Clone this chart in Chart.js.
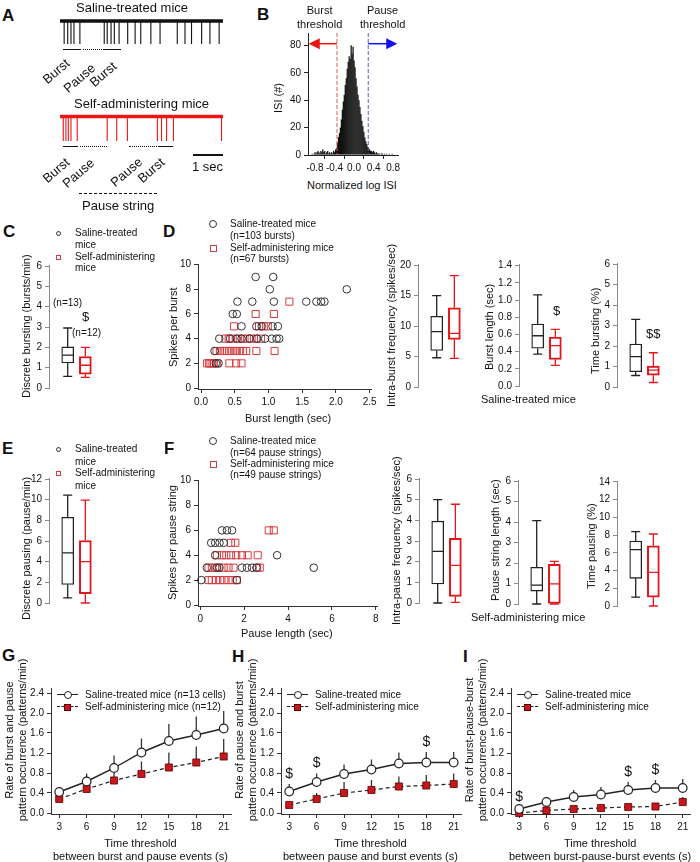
<!DOCTYPE html>
<html>
<head>
<meta charset="utf-8">
<script src="https://cdn.jsdelivr.net/npm/chart.js@4.4.1/dist/chart.umd.min.js"></script>
<style>
html, body { margin: 0; padding: 0; background: #fff; }
#fig { position: relative; width: 700px; height: 862px; overflow: hidden; font-family: "Liberation Sans", Arial, sans-serif; color: #111; }
#fig canvas { position: absolute; }
.t { position: absolute; white-space: nowrap; line-height: 1; }
</style>
</head>
<body>
<div id="fig"></div>
<script>
// ---------- data ----------
// A: spike times (sec) of the two example traces
const traceLen = 5.49;
const salSpikes = [0.14, 0.26, 0.37, 0.47, 0.67, 1.49, 1.59, 1.72, 1.83, 1.99, 2.28, 2.53, 2.72, 3.06, 3.37, 3.95, 4.21, 4.43, 4.77, 5.05, 5.36];
const selfSpikes = [0.11, 0.20, 0.28, 0.37, 0.58, 1.59, 1.91, 2.27, 3.28, 3.42, 3.59, 3.82, 5.44];

// B: ISI histogram
const isiBins = [-0.88, -0.86, -0.84, -0.82, -0.80, -0.78, -0.76, -0.74, -0.72, -0.70,
  -0.68, -0.66, -0.64, -0.62, -0.60, -0.58, -0.56, -0.54, -0.52, -0.50,
  -0.48, -0.46, -0.44, -0.42, -0.40, -0.38, -0.36, -0.34, -0.32, -0.30,
  -0.28, -0.26, -0.24, -0.22, -0.20, -0.18, -0.16, -0.14, -0.12, -0.10,
  -0.08, -0.06, -0.04, -0.02, 0.00, 0.02, 0.04, 0.06, 0.08, 0.10,
  0.12, 0.14, 0.16, 0.18, 0.20, 0.22, 0.24, 0.26, 0.28, 0.30,
  0.32, 0.34, 0.36, 0.38, 0.40, 0.42, 0.44, 0.46, 0.48, 0.50,
  0.52, 0.54, 0.56, 0.58, 0.60, 0.62, 0.64, 0.66, 0.68, 0.70,
  0.72, 0.74, 0.76, 0.78, 0.80, 0.82, 0.84, 0.86, 0.88];
const isiCounts = [0, 1, 0, 1, 2, 1, 2, 3, 2, 1,
  3, 2, 4, 2, 3, 1, 2, 3, 1, 2,
  1, 2, 1, 3, 2, 4, 5, 9, 13, 16,
  20, 26, 33, 39, 44, 51, 56, 63, 68, 72,
  70, 80, 74, 79, 69, 64, 56, 50, 44, 40,
  35, 30, 25, 21, 17, 13, 10, 8, 6, 5,
  4, 3, 3, 2, 3, 2, 1, 2, 1, 1,
  1, 0, 1, 1, 0, 1, 0, 1, 0, 0,
  1, 0, 0, 1, 0, 0, 0, 0, 0];
const burstThr = -0.35;
const pauseThr = 0.29;
const bXTicks = [-0.8, -0.4, 0, 0.4, 0.8];
const bYTicks = [0, 20, 40, 60, 80];

// box plots: [saline, self-administering]
const boxPos = [1, 2];
const cLo = [0.57, 0.52], cQ1 = [1.23, 0.68], cMed = [1.62, 1.12], cQ3 = [2.02, 1.55], cHi = [2.95, 2.0];
const d1Lo = [4.8, 4.7], d1Q1 = [6.0, 7.8], d1Med = [9.1, 8.8], d1Q3 = [11.6, 13.0], d1Hi = [15.0, 18.3];
const d2Lo = [0.37, 0.24], d2Q1 = [0.44, 0.31], d2Med = [0.585, 0.47], d2Q3 = [0.72, 0.57], d2Hi = [1.06, 0.66];
const d3Lo = [0.56, 0.22], d3Q1 = [0.75, 0.58], d3Med = [1.48, 0.82], d3Q3 = [2.1, 1.02], d3Hi = [3.3, 1.67];
const eLo = [0.5, 0], eQ1 = [1.8, 0.9], eMed = [4.85, 4.0], eQ3 = [8.3, 6.05], eHi = [10.45, 9.95];
const f1Lo = [0, 0.03], f1Q1 = [0.92, 0.32], f1Med = [2.5, 1.82], f1Q3 = [3.96, 3.13], f1Hi = [5.0, 4.78];
const f2Lo = [0, 0], f2Q1 = [0.63, 0], f2Med = [0.92, 0.98], f2Q3 = [1.79, 1.93], f2Hi = [4.07, 2.08];
const f3Lo = [1.0, 0], f3Q1 = [3.12, 1.0], f3Med = [6.35, 3.8], f3Q3 = [7.33, 6.8], f3Hi = [8.38, 8.12];
const cTicks = [0, 1, 2, 3, 4, 5, 6];
const d1Ticks = [0, 5, 10, 15, 20];
const d2Ticks = [0, 0.2, 0.4, 0.6, 0.8, 1.0, 1.2, 1.4];
const d3Ticks = [0, 1, 2, 3, 4, 5, 6];
const eTicks = [0, 2, 4, 6, 8, 10, 12];
const f1Ticks = [0, 1, 2, 3, 4, 5, 6];
const f2Ticks = [0, 1, 2, 3, 4, 5, 6];
const f3Ticks = [0, 2, 4, 6, 8, 10, 12, 14];

// D scatter: burst length (sec) vs spikes per burst
const dSalLen = [0.81, 1.07, 1.02, 2.16, 0.54, 0.76, 1.08, 1.56, 1.71, 1.78, 1.83, 0.47, 0.53,
  0.60, 0.82, 0.90, 1.06, 1.14, 0.27, 0.43, 0.53, 0.60, 0.72, 0.83, 0.95, 1.05, 1.12, 1.16, 0.20, 0.22, 0.26];
const dSalSpk = [9, 9, 8, 8, 7, 7, 7, 7, 7, 7, 7, 6, 6,
  5, 5, 5, 5, 5, 4, 4, 4, 4, 4, 4, 4, 4, 4, 4, 3, 2, 2];
const dSelfLen = [1.31, 0.81, 1.08, 0.49, 0.86, 0.93, 0.99,
  0.36, 0.41, 0.47, 0.55, 0.62, 0.68, 0.75, 0.82, 0.89,
  0.23, 0.28, 0.31, 0.35, 0.38, 0.42, 0.45, 0.50, 0.53, 0.58, 0.62, 0.67, 0.82, 1.09,
  0.09, 0.12, 0.14, 0.17, 0.19, 0.24, 0.42, 0.52, 0.60];
const dSelfSpk = [7, 6, 6, 5, 5, 5, 5,
  4, 4, 4, 4, 4, 4, 4, 4, 4,
  3, 3, 3, 3, 3, 3, 3, 3, 3, 3, 3, 3, 3, 3,
  2, 2, 2, 2, 2, 2, 2, 2, 2];
const dXTicks = [0, 0.5, 1.0, 1.5, 2.0, 2.5];
const dYTicks = [0, 2, 4, 6, 8, 10];

// F scatter: pause length (sec) vs spikes per pause string
const fSalLen = [0.99, 1.22, 1.45, 0.50, 0.68, 0.88, 1.07, 0.68, 3.50,
  0.30, 0.76, 0.88, 1.90, 2.13, 2.36, 2.56, 5.17, 0.05, 1.67];
const fSalSpk = [6, 6, 6, 5, 5, 5, 5, 4, 4,
  3, 3, 3, 3, 3, 3, 3, 3, 2, 2];
const fSelfLen = [3.12, 3.35, 1.40, 1.60, 0.76, 0.99, 1.19, 1.40, 1.64, 1.90, 2.16, 2.62,
  0.38, 0.53, 0.68, 0.84, 1.07, 1.29, 1.52, 2.59, 2.71,
  0.38, 0.53, 0.72, 0.91, 1.10, 1.29, 1.48, 1.67];
const fSelfSpk = [6, 6, 5, 5, 4, 4, 4, 4, 4, 4, 4, 4,
  3, 3, 3, 3, 3, 3, 3, 3, 3,
  2, 2, 2, 2, 2, 2, 2, 2];
const fXTicks = [0, 2, 4, 6, 8];
const fYTicks = [0, 2, 4, 6, 8, 10];

// G-I: pattern rates vs time threshold
const thresholds = [3, 6, 9, 12, 15, 18, 21];
const gSal = [0.42, 0.63, 0.90, 1.21, 1.44, 1.56, 1.69];
const gSalErr = [0.09, 0.16, 0.25, 0.28, 0.34, 0.37, 0.35];
const gSelf = [0.28, 0.48, 0.65, 0.78, 0.91, 1.01, 1.13];
const gSelfErr = [0.05, 0.12, 0.15, 0.25, 0.30, 0.32, 0.35];
const hSal = [0.43, 0.62, 0.78, 0.87, 0.99, 1.01, 1.01];
const hSalErr = [0.15, 0.17, 0.19, 0.20, 0.22, 0.21, 0.21];
const hSelf = [0.16, 0.28, 0.40, 0.46, 0.53, 0.55, 0.58];
const hSelfErr = [0.04, 0.12, 0.22, 0.20, 0.20, 0.21, 0.21];
const iSal = [0.08, 0.22, 0.32, 0.37, 0.46, 0.50, 0.50];
const iSalErr = [0.04, 0.10, 0.14, 0.15, 0.16, 0.16, 0.18];
const iSelf = [0.0, 0.05, 0.08, 0.10, 0.12, 0.13, 0.22];
const iSelfErr = [0.0, 0.02, 0.03, 0.04, 0.04, 0.05, 0.10];
const hSig = [0, 1, 5];
const iSig = [0, 4, 5];
const rateTicks = [0, 0.4, 0.8, 1.2, 1.6, 2.0, 2.4];

// ---------- helpers ----------
const BLK = '#222';
const RED = '#e4161c';
const SQ = '#d63a3f';
const fig = document.getElementById('fig');
const P = 14;
const f0 = v => String(v);
const f1 = v => v.toFixed(1);

Chart.defaults.font.family = '"Liberation Sans", Arial, sans-serif';
Chart.defaults.font.size = 10;
Chart.defaults.color = '#111';

// canvas placed so that the chart area lands on l,t,r,b of the page
function mount(l, t, r, b, yW, xH) {
    const c = document.createElement('canvas');
    const w = Math.round(r - l) + yW + P;
    const h = Math.round(b - t) + P + (xH || P);
    c.width = w;
    c.height = h;
    c.style.left = (l - yW) + 'px';
    c.style.top = (t - P) + 'px';
    c.style.width = w + 'px';
    c.style.height = h + 'px';
    fig.appendChild(c);
    return {c: c, pad: {top: P, right: P, left: 0, bottom: xH ? 0 : P}};
}

function axis(dir, min, max, ticks, fmt, size, color) {
    return {
        type: 'linear', min: min, max: max, offset: false,
        afterFit: s => { if (dir === 'y') s.width = size; else s.height = size; },
        afterBuildTicks: s => { s.ticks = ticks.map(v => ({value: v})); },
        ticks: {callback: v => fmt(v), font: {size: 10}, color: '#111', padding: 3, autoSkip: false, maxRotation: 0, minRotation: 0},
        grid: {drawOnChartArea: false, drawTicks: true, tickLength: 4, color: color},
        border: {display: true, color: color, width: 1}
    };
}

function hidden(min, max) {
    return {type: 'linear', display: false, min: min, max: max, offset: false};
}

function opts(pad, x, y, extra) {
    return {
        responsive: false, animation: false, events: [],
        layout: {padding: pad},
        scales: {x: x, y: y},
        plugins: Object.assign({legend: {display: false}, tooltip: {enabled: false}}, extra || {})
    };
}

// text centred on x,y (or left aligned); whole-pixel boxes keep rotated text crisp
function text(s, x, y, size, o) {
    o = o || {};
    const d = document.createElement('div');
    d.className = 't';
    d.innerHTML = s;
    d.style.fontSize = size + 'px';
    if (o.bold) d.style.fontWeight = 'bold';
    if (o.lh) { d.style.lineHeight = o.lh; d.style.textAlign = 'center'; }
    fig.appendChild(d);
    const r = d.getBoundingClientRect();
    let w = Math.ceil(r.width), h = Math.ceil(r.height);
    if (o.rot) {
        w += w % 2; h += h % 2;
        d.style.width = w + 'px';
        d.style.height = h + 'px';
        d.style.transform = 'rotate(' + o.rot + 'deg)';
    }
    d.style.left = Math.round(o.left ? x : x - w / 2) + 'px';
    d.style.top = Math.round(y - h / 2) + 'px';
}

function rule(x1, x2, y, w, style, color) {
    const d = document.createElement('div');
    d.style.cssText = 'position:absolute;left:' + x1 + 'px;top:' + (y - w / 2) + 'px;width:' + (x2 - x1) +
        'px;height:0;border-top:' + w + 'px ' + style + ' ' + color;
    fig.appendChild(d);
}

function dot(cx, cy, s, stroke, fill, round) {
    const d = document.createElement('div');
    d.style.cssText = 'position:absolute;box-sizing:border-box;left:' + (cx - s / 2) + 'px;top:' + (cy - s / 2) +
        'px;width:' + s + 'px;height:' + s + 'px;border:1px solid ' + stroke + ';background:' + fill +
        ';border-radius:' + (round ? '50%' : '0');
    fig.appendChild(d);
}

// ---------- plugins ----------
const boxWhisker = {
    id: 'boxWhisker',
    afterDatasetsDraw(chart) {
        const ctx = chart.ctx, y = chart.scales.y;
        chart.data.datasets.forEach((ds, i) => {
            chart.getDatasetMeta(i).data.forEach((bar, j) => {
                const x = bar.x, lw = ds.borderWidth[j], hw = bar.width / 2 - lw / 2, cap = 4.5;
                const yq1 = y.getPixelForValue(ds.data[j].y[0]);
                const yq3 = y.getPixelForValue(ds.data[j].y[1]);
                const ylo = y.getPixelForValue(ds.lo[j]);
                const yhi = y.getPixelForValue(ds.hi[j]);
                const ym = y.getPixelForValue(ds.med[j]);
                ctx.save();
                ctx.strokeStyle = ds.borderColor[j];
                ctx.lineWidth = 1.3;
                ctx.beginPath();
                ctx.moveTo(x - hw, ym); ctx.lineTo(x + hw, ym);
                ctx.moveTo(x, yq3); ctx.lineTo(x, yhi);
                ctx.moveTo(x - cap, yhi); ctx.lineTo(x + cap, yhi);
                ctx.moveTo(x, yq1); ctx.lineTo(x, ylo);
                ctx.moveTo(x - cap, ylo); ctx.lineTo(x + cap, ylo);
                ctx.stroke();
                ctx.restore();
            });
        });
    }
};

const errBars = {
    id: 'errBars',
    beforeDatasetsDraw(chart) {
        const ctx = chart.ctx, y = chart.scales.y;
        chart.data.datasets.forEach((ds, i) => {
            chart.getDatasetMeta(i).data.forEach((pt, j) => {
                const top = y.getPixelForValue(ds.data[j].y + ds.err[j]);
                ctx.save();
                ctx.strokeStyle = '#333';
                ctx.lineWidth = 1.3;
                ctx.beginPath();
                ctx.moveTo(pt.x, pt.y);
                ctx.lineTo(pt.x, top);
                ctx.stroke();
                ctx.restore();
            });
        });
    },
    afterDatasetsDraw(chart, args, o) {
        if (!o.sig) return;
        const ctx = chart.ctx, y = chart.scales.y;
        const ds = chart.data.datasets[0], meta = chart.getDatasetMeta(0);
        ctx.save();
        ctx.fillStyle = '#111';
        ctx.font = '14px "Liberation Sans", Arial, sans-serif';
        ctx.textAlign = 'center';
        ctx.textBaseline = 'middle';
        o.sig.forEach(j => {
            const top = y.getPixelForValue(ds.data[j].y + ds.err[j]);
            ctx.fillText('$', meta.data[j].x, top - 10);
        });
        ctx.restore();
    }
};

const threshLines = {
    id: 'threshLines',
    afterDatasetsDraw(chart, args, o) {
        const ctx = chart.ctx, a = chart.chartArea, x = chart.scales.x, y = chart.scales.y;
        [[o.burst, '#e05a5a', '#ee1111', x.min + 0.015], [o.pause, '#5a5ad0', '#1111ee', x.max - 0.015]].forEach(s => {
            const px = x.getPixelForValue(s[0]), ex = x.getPixelForValue(s[3]), py = y.getPixelForValue(o.level);
            const dir = Math.sign(ex - px);
            ctx.save();
            ctx.strokeStyle = s[1];
            ctx.lineWidth = 1;
            ctx.setLineDash([4, 2]);
            ctx.beginPath();
            ctx.moveTo(px, a.top); ctx.lineTo(px, a.bottom);
            ctx.stroke();
            ctx.setLineDash([]);
            ctx.strokeStyle = s[2];
            ctx.lineWidth = 1.5;
            ctx.beginPath();
            ctx.moveTo(px, py); ctx.lineTo(ex - dir * 9, py);
            ctx.stroke();
            ctx.fillStyle = s[2];
            ctx.beginPath();
            ctx.moveTo(ex, py);
            ctx.lineTo(ex - dir * 11, py - 5.5);
            ctx.lineTo(ex - dir * 11, py + 5.5);
            ctx.closePath();
            ctx.fill();
            ctx.restore();
        });
    }
};

// ---------- A: traces ----------
function trace(t, b, spikes, color) {
    const m = mount(60, t, 223, b, 0, 0);
    new Chart(m.c, {
        type: 'scatter',
        data: {datasets: [
            {data: [{x: 0, y: 0}, {x: traceLen, y: 0}], showLine: true, borderColor: color, borderWidth: 3.5, pointRadius: 0},
            {data: spikes.flatMap(s => [{x: s, y: 0}, {x: s, y: -1}, {x: s, y: null}]),
             showLine: true, spanGaps: false, borderColor: color, borderWidth: 1.1, pointRadius: 0}
        ]},
        options: opts(m.pad, hidden(0, traceLen), hidden(-1.04, 0.26))
    });
}
trace(15, 45, salSpikes, '#111');
trace(110, 142, selfSpikes, '#ee1515');

// ---------- B: ISI histogram ----------
(function () {
    const m = mount(308, 32.6, 397.9, 155, 30, 24);
    new Chart(m.c, {
        type: 'bar',
        data: {datasets: [{
            data: isiBins.map((v, i) => ({x: v, y: isiCounts[i]})),
            backgroundColor: '#111', borderWidth: 0, barPercentage: 1.3, categoryPercentage: 1
        }]},
        options: opts(m.pad,
            axis('x', -0.944, 0.9, bXTicks, f1, 24, BLK),
            axis('y', 0, 89, bYTicks, f0, 30, BLK),
            {threshLines: {burst: burstThr, pause: pauseThr, level: 81.2}}),
        plugins: [threshLines]
    });
})();

// ---------- box plots ----------
function boxChart(l, t, b, ymax, ticks, fmt, lo, q1, med, q3, hi) {
    const m = mount(l, t, l + 53.6, b, 30, 0);
    new Chart(m.c, {
        type: 'bar',
        data: {datasets: [{
            data: boxPos.map((x, i) => ({x: x, y: [q1[i], q3[i]]})),
            lo: lo, med: med, hi: hi,
            backgroundColor: ['#fff', '#fff'], borderColor: [BLK, RED], borderWidth: [1.3, 2],
            borderSkipped: false, barThickness: 12
        }]},
        options: opts(m.pad, hidden(-0.06, 3), axis('y', 0, ymax, ticks, fmt, 30, '#8a8a8a')),
        plugins: [boxWhisker]
    });
}
boxChart(49, 265, 388, 6.05, cTicks, f0, cLo, cQ1, cMed, cQ3, cHi);
boxChart(418, 263.8, 387, 20.2, d1Ticks, f0, d1Lo, d1Q1, d1Med, d1Q3, d1Hi);
boxChart(519, 264.3, 386.7, 1.42, d2Ticks, f1, d2Lo, d2Q1, d2Med, d2Q3, d2Hi);
boxChart(617, 263, 386.7, 6.05, d3Ticks, f0, d3Lo, d3Q1, d3Med, d3Q3, d3Hi);
boxChart(49, 478, 603, 12.1, eTicks, f0, eLo, eQ1, eMed, eQ3, eHi);
boxChart(419, 478, 602.7, 6.05, f1Ticks, f0, f1Lo, f1Q1, f1Med, f1Q3, f1Hi);
boxChart(518, 480, 604, 6.05, f2Ticks, f0, f2Lo, f2Q1, f2Med, f2Q3, f2Hi);
boxChart(617, 480.8, 605.7, 14.1, f3Ticks, f0, f3Lo, f3Q1, f3Med, f3Q3, f3Hi);

// ---------- scatter plots ----------
function scatter(l, t, r, b, xr, yr, xt, yt, xf, salX, salY, selfX, selfY) {
    const m = mount(l, t, r, b, 30, 24);
    new Chart(m.c, {
        type: 'scatter',
        data: {datasets: [
            {data: salX.map((v, i) => ({x: v, y: salY[i]})), pointStyle: 'circle', pointRadius: 3.8,
             borderColor: '#333', backgroundColor: 'rgba(0,0,0,0)', borderWidth: 1, clip: false},
            {data: selfX.map((v, i) => ({x: v, y: selfY[i]})), pointStyle: 'rect', pointRadius: 5,
             borderColor: SQ, backgroundColor: 'rgba(0,0,0,0)', borderWidth: 1, clip: false}
        ]},
        options: opts(m.pad, axis('x', xr[0], xr[1], xt, xf, 24, '#333'), axis('y', yr[0], yr[1], yt, f0, 30, '#333'))
    });
}
scatter(198, 264.4, 371.4, 389, [-0.045, 2.52], [-0.08, 10.05], dXTicks, dYTicks, f1, dSalLen, dSalSpk, dSelfLen, dSelfSpk);
scatter(197.8, 479.8, 376.3, 605.9, [-0.1, 8.05], [-0.08, 10.05], fXTicks, fYTicks, f0, fSalLen, fSalSpk, fSelfLen, fSelfSpk);

// ---------- G-I: rate vs threshold ----------
function rateChart(l, sal, salErr, self, selfErr, sig) {
    const m = mount(l, 688, l + 179.5, 814, 30, 24);
    new Chart(m.c, {
        type: 'line',
        data: {datasets: [
            {data: thresholds.map((v, i) => ({x: v, y: sal[i]})), err: salErr,
             borderColor: BLK, borderWidth: 1.4, pointStyle: 'circle', pointRadius: 4.3,
             pointBackgroundColor: '#fff', pointBorderColor: BLK, pointBorderWidth: 1.2, tension: 0, clip: false},
            {data: thresholds.map((v, i) => ({x: v, y: self[i]})), err: selfErr,
             borderColor: BLK, borderWidth: 1.2, borderDash: [4, 3], pointStyle: 'rect', pointRadius: 5,
             pointBackgroundColor: '#c8161d', pointBorderColor: '#5a0000', pointBorderWidth: 0.8, tension: 0, clip: false}
        ]},
        options: opts(m.pad, axis('x', 2.1, 21.8, thresholds, f0, 24, '#333'),
            axis('y', -0.02, 2.5, rateTicks, f1, 30, '#333'), {errBars: {sig: sig}}),
        plugins: [errBars]
    });
}
rateChart(50.8, gSal, gSalErr, gSelf, gSelfErr, null);
rateChart(280.8, hSal, hSalErr, hSelf, hSelfErr, hSig);
rateChart(510.8, iSal, iSalErr, iSelf, iSelfErr, iSig);

// ---------- text, legends, marks ----------
[['A', 8, 15], ['B', 263, 14], ['C', 9, 231], ['D', 169, 231], ['E', 8, 448], ['F', 169, 448],
 ['G', 9, 655], ['H', 238, 656], ['I', 465, 656]].forEach(p => text(p[0], p[1], p[2], 17, {bold: true}));

// A
text('Saline-treated mice', 132, 7, 13);
text('Self-administering mice', 142, 103, 13);
rule(63, 81, 50, 1.5, 'solid', '#111');
rule(83, 102, 50, 1.5, 'dotted', '#111');
rule(103, 121, 50, 1.5, 'solid', '#111');
text('Burst', 57, 71, 13, {rot: -41});
text('Pause', 80, 78, 13, {rot: -41});
text('Burst', 104, 74, 13, {rot: -41});
rule(63, 78, 147, 1.5, 'solid', '#111');
rule(80, 107, 147, 1.5, 'dotted', '#111');
rule(129, 157, 147, 1.5, 'dotted', '#111');
rule(158, 173, 147, 1.5, 'solid', '#111');
text('Burst', 57, 170, 13, {rot: -41});
text('Pause', 79, 173, 13, {rot: -41});
text('Pause', 127, 172, 13, {rot: -41});
text('Burst', 152, 170, 13, {rot: -41});
rule(79, 157, 194, 1.5, 'dashed', '#111');
text('Pause string', 118, 205, 13);
rule(193, 223, 155, 2, 'solid', '#111');
text('1 sec', 208, 166, 13);

// B
text('Burst<br>threshold', 320, 17, 11, {lh: '14px'});
text('Pause<br>threshold', 383, 17, 11, {lh: '14px'});
text('ISI (#)', 279, 98, 11, {rot: -90});
text('Normalized log ISI', 352, 185, 11);

// C
dot(58, 233, 5, '#333', '#fff', true);
text('Saline-treated', 75, 233, 10, {left: true});
text('mice', 75, 245, 10, {left: true});
dot(58, 257, 5, SQ, '#fff', false);
text('Self-administering', 75, 257, 10, {left: true});
text('mice', 75, 268, 10, {left: true});
text('(n=13)', 68, 303, 10);
text('$', 86, 316, 13);
text('(n=12)', 87, 333, 10);
text('Discrete bursting (bursts/min)', 27, 326, 11, {rot: -90});

// D
dot(213, 224, 8, '#333', 'transparent', true);
text('Saline-treated mice', 230, 224, 10, {left: true});
text('(n=103 bursts)', 230, 236, 10, {left: true});
dot(213, 248, 7, SQ, 'transparent', false);
text('Self-administering mice', 230, 248, 10, {left: true});
text('(n=67 bursts)', 230, 259, 10, {left: true});
text('Spikes per burst', 174, 327, 11, {rot: -90});
text('Burst length (sec)', 288, 418, 11);
text('Intra-burst frequency (spikes/sec)', 392, 325, 11, {rot: -90});
text('Burst length (sec)', 490, 326, 11, {rot: -90});
text('Time bursting (%)', 596, 330, 11, {rot: -90});
text('$', 557, 310, 13);
text('$$', 653, 333, 13);
text('Saline-treated mice', 528, 399, 11);

// E
dot(58, 449, 5, '#333', '#fff', true);
text('Saline-treated', 75, 449, 10, {left: true});
text('mice', 75, 462, 10, {left: true});
dot(58, 473, 5, SQ, '#fff', false);
text('Self-administering', 75, 473, 10, {left: true});
text('mice', 75, 486, 10, {left: true});
text('Discrete pausing (pause/min)', 27, 548, 11, {rot: -90});

// F
dot(213, 441, 8, '#333', 'transparent', true);
text('Saline-treated mice', 230, 441, 10, {left: true});
text('(n=64 pause strings)', 230, 453, 10, {left: true});
dot(213, 464, 7, SQ, 'transparent', false);
text('Self-administering mice', 230, 464, 10, {left: true});
text('(n=49 pause strings)', 230, 475, 10, {left: true});
text('Spikes per pause string', 173, 542, 11, {rot: -90});
text('Pause length (sec)', 287, 633, 11);
text('Intra-pause frequency (spikes/sec)', 397, 540, 11, {rot: -90});
text('Pause string length (sec)', 496, 540, 11, {rot: -90});
text('Time pausing (%)', 592, 546, 11, {rot: -90});
text('Self-administering mice', 528, 617, 11);

// G-I legends and titles
function legendRow(x, y, dashed, label) {
    rule(x, x + 21, y, 1.3, dashed ? 'dashed' : 'solid', BLK);
    if (dashed) dot(x + 10.5, y, 7, '#5a0000', '#c8161d', false);
    else dot(x + 10.5, y, 8, BLK, '#fff', true);
    text(label, x + 28, y, 10, {left: true});
}
legendRow(57, 695, false, 'Saline-treated mice (n=13 cells)');
legendRow(57, 707, true, 'Self-administering mice (n=12)');
legendRow(287, 695, false, 'Saline-treated mice');
legendRow(287, 707, true, 'Self-administering mice');
legendRow(517, 695, false, 'Saline-treated mice');
legendRow(517, 707, true, 'Self-administering mice');

text('Rate of burst and pause<br>pattern occurrence (patterns/min)', 16, 740, 11, {rot: -90, lh: '13px'});
text('Rate of pause and burst<br>pattern occurrence (patterns/min)', 246, 740, 11, {rot: -90, lh: '13px'});
text('Rate of burst-pause-burst<br>pattern occurrence (patterns/min)', 476, 740, 11, {rot: -90, lh: '13px'});
text('Time threshold<br>between burst and pause events (s)', 140, 849.5, 11, {lh: '13px'});
text('Time threshold<br>between pause and burst events (s)', 370, 849.5, 11, {lh: '13px'});
text('Time threshold<br>between burst-pause-burst events (s)', 600, 849.5, 11, {lh: '13px'});
</script>
</body>
</html>
